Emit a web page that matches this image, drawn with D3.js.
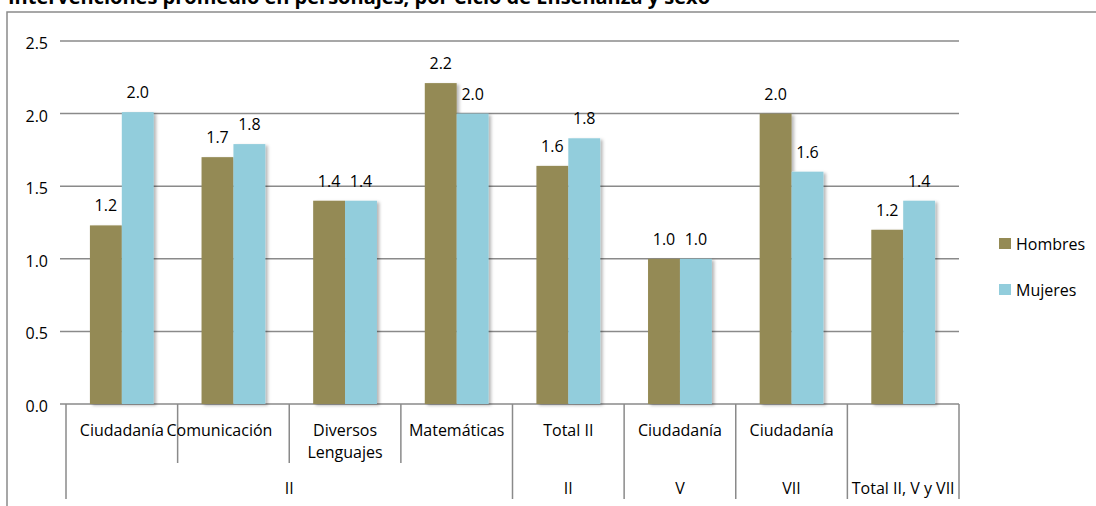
<!DOCTYPE html>
<html>
<head>
<meta charset="utf-8">
<script src="https://cdn.jsdelivr.net/npm/d3@7"></script>
<style>
  body { margin: 0; background: #fff; }
  text { font-family: "Open Sans", sans-serif; fill: #000; }
</style>
</head>
<body>
<svg id="chart" width="1096" height="506"></svg>
<script>
// Average interventions per character, by teaching cycle and sex
const title = "Intervenciones promedio en personajes, por Ciclo de Enseñanza y sexo";
const subjects = ["Ciudadanía", "Comunicación", "Diversos\nLenguajes", "Matemáticas", "Total II", "Ciudadanía", "Ciudadanía", ""];
const cycleLabels = ["II", "II", "V", "VII", "Total II, V y VII"];
const cycleSpans = [4, 1, 1, 1, 1];
const seriesNames = ["Hombres", "Mujeres"];
const hombres = [1.23, 1.70, 1.40, 2.21, 1.64, 1.00, 2.00, 1.20];
const mujeres = [2.01, 1.79, 1.40, 2.00, 1.83, 1.00, 1.60, 1.40];
const yTicks = [0, 0.5, 1.0, 1.5, 2.0, 2.5];

const colors = { Hombres: "#948A54", Mujeres: "#92CDDC" };
const gridColor = "#8a8a8a";
const fontSize = "16px";

const svg = d3.select("#chart");

// drop shadow for the columns
const defs = svg.append("defs");
defs.append("filter").attr("id", "colShadow")
  .attr("x", "-20%").attr("y", "-10%").attr("width", "150%").attr("height", "130%")
  .append("feDropShadow")
  .attr("dx", 2.5).attr("dy", 1.5).attr("stdDeviation", 1.6)
  .attr("flood-color", "#000").attr("flood-opacity", 0.28);

// chart frame
svg.append("rect")
  .attr("x", 7).attr("y", 12).attr("width", 1200).attr("height", 600)
  .attr("fill", "none").attr("stroke", gridColor).attr("stroke-width", 1.5);

// title, running off the top of the page
svg.append("text")
  .attr("x", 8).attr("y", 3.5)
  .style("font-weight", "bold").style("font-size", "20px")
  .text(title);

const x = d3.scaleBand().domain(d3.range(subjects.length)).range([66, 959]);
const xs = d3.scaleBand().domain(seriesNames).range([0, x.bandwidth()]).paddingInner(0).paddingOuter(0.75);
const y = d3.scaleLinear().domain([0, 2.5]).range([404, 41]);

// gridlines + y labels
const gridLeft = 60, gridRight = 959;
svg.append("g").selectAll("line").data(yTicks).join("line")
  .attr("x1", gridLeft).attr("x2", gridRight)
  .attr("y1", d => y(d)).attr("y2", d => y(d))
  .attr("stroke", gridColor).attr("stroke-width", 1.5);

svg.append("g").selectAll("text").data(yTicks).join("text")
  .attr("x", 48).attr("y", d => y(d) + 8)
  .attr("text-anchor", "end").style("font-size", fontSize)
  .text(d => d3.format(".1f")(d));

// columns
const rows = subjects.map((s, i) => ({ i, Hombres: hombres[i], Mujeres: mujeres[i] }));
const barData = rows.flatMap(r => seriesNames.map(k => ({ i: r.i, key: k, value: r[k] })));

svg.append("g").attr("filter", "url(#colShadow)")
  .selectAll("rect").data(barData).join("rect")
  .attr("x", d => x(d.i) + xs(d.key))
  .attr("width", xs.bandwidth())
  .attr("y", d => y(d.value))
  .attr("height", d => y(0) - y(d.value))
  .attr("fill", d => colors[d.key]);

// value labels
svg.append("g").selectAll("text").data(barData).join("text")
  .attr("x", d => x(d.i) + xs(d.key) + xs.bandwidth() / 2)
  .attr("y", d => y(d.value) - 14)
  .attr("text-anchor", "middle").style("font-size", fontSize)
  .text(d => d3.format(".1f")(d.value));

// category axis: subject row and cycle row
const ticks = svg.append("g").attr("stroke", gridColor).attr("stroke-width", 1.5);
const boundaries = [0];
cycleSpans.reduce((acc, s) => { boundaries.push(acc + s); return acc + s; }, 0);
const edge = i => (i < subjects.length ? x(i) : x.range()[1]);
d3.range(subjects.length + 1).forEach(i => {
  const full = boundaries.includes(i);
  ticks.append("line")
    .attr("x1", edge(i)).attr("x2", edge(i))
    .attr("y1", y(0)).attr("y2", full ? 499 : 463);
});

// a label wider than its slot is nudged left, as the spreadsheet lays it out
const labelNudge = { 1: -14 };
const subjG = svg.append("g");
subjects.forEach((s, i) => {
  const cx = x(i) + x.bandwidth() / 2 + (labelNudge[i] || 0);
  const t = subjG.append("text")
    .attr("x", cx).attr("y", 436)
    .attr("text-anchor", "middle").style("font-size", fontSize);
  s.split("\n").forEach((line, k) => {
    t.append("tspan").attr("x", cx).attr("dy", k === 0 ? 0 : 22).text(line);
  });
});

const cycG = svg.append("g");
cycleLabels.forEach((c, j) => {
  const a = edge(boundaries[j]), b = edge(boundaries[j + 1]);
  cycG.append("text")
    .attr("x", (a + b) / 2).attr("y", 494)
    .attr("text-anchor", "middle").style("font-size", fontSize)
    .text(c);
});

// legend
const legend = svg.append("g").attr("transform", "translate(999,238)");
seriesNames.forEach((k, j) => {
  const g = legend.append("g").attr("transform", `translate(0,${j * 46})`);
  g.append("rect").attr("width", 12).attr("height", 11).attr("fill", colors[k]);
  g.append("text").attr("x", 17).attr("y", 12).style("font-size", fontSize).text(k);
});
</script>
</body>
</html>
